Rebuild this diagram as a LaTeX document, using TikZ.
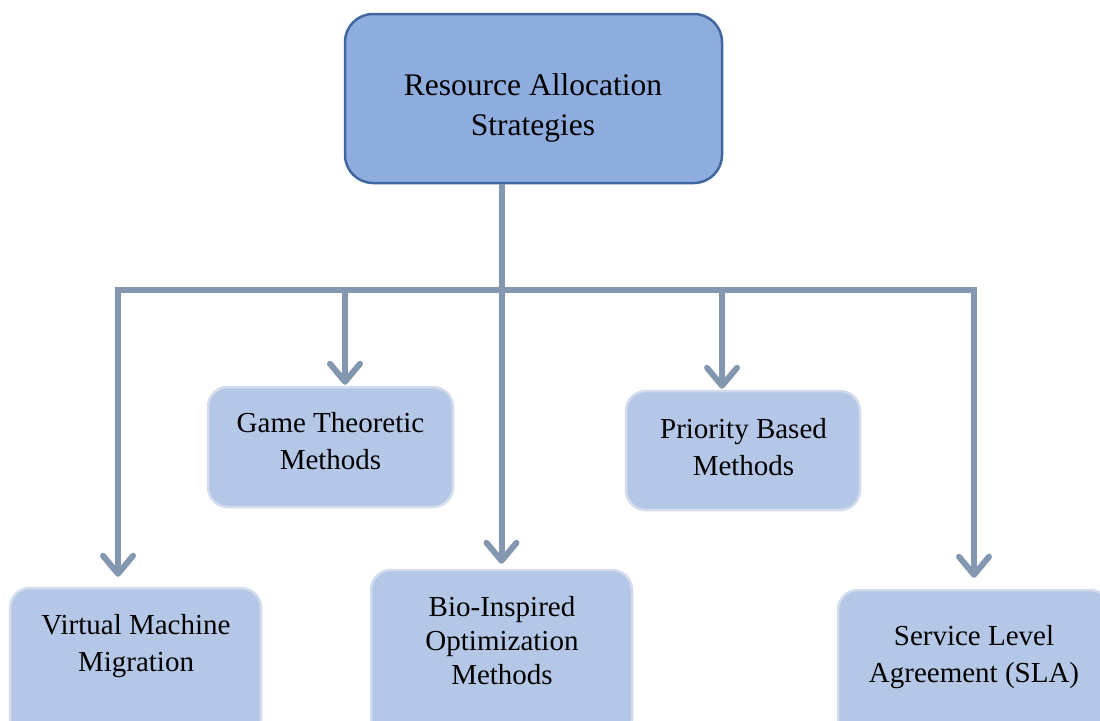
\documentclass[tikz,border=0pt]{standalone}
\usepackage{fontspec}
\setmainfont{Liberation Serif}
\usetikzlibrary{arrows.meta}
\definecolor{topfill}{HTML}{8FACDE}
\definecolor{topdraw}{HTML}{41679F}
\definecolor{subfill}{HTML}{B4C7E7}
\definecolor{subdraw}{HTML}{D3DCEC}
\definecolor{conn}{HTML}{8497B0}
\tikzset{
  topbox/.style={draw=topdraw, fill=topfill, line width=2.5pt, rounded corners=28pt, inner sep=0pt},
  subbox/.style={draw=subdraw, fill=subfill, line width=2.5pt, rounded corners=20pt, inner sep=0pt},
  toptext/.style={align=center, font=\fontsize{31.5}{40}\selectfont, inner sep=0pt},
  subtext/.style={align=center, font=\fontsize{29}{37}\selectfont, inner sep=0pt},
  wire/.style={draw=conn, line width=6pt, line join=miter},
  arr/.style={wire, -{Straight Barb[length=18pt, width=30pt, round]}, shorten >=5pt},
  arr2/.style={wire, {Straight Barb[length=18pt, width=30pt, round]}-{Straight Barb[length=18pt, width=30pt, round]}, shorten >=11pt, shorten <=10pt},
}
\begin{document}
\begin{tikzpicture}[x=1pt, y=-1pt]
\useasboundingbox (0,0) rectangle (1100,720);
\begin{scope}
\clip (0,0) rectangle (1100,720);
% boxes
\node[topbox, minimum width=377pt, minimum height=169pt] (top) at (533.5,98.5) {};
\node[toptext] (toptxt) at (533,107.5) {Resource Allocation\\Strategies};

\node[subbox, minimum width=245pt, minimum height=120pt] (game) at (330.5,447) {};
\node[subtext] (gametxt) at (330.5,441) {Game Theoretic\\Methods};

\node[subbox, minimum width=234pt, minimum height=119pt] (prio) at (743,450.5) {};
\node[subtext] (priotxt) at (743.5,447) {Priority Based\\Methods};

\node[subbox, minimum width=251pt, minimum height=152pt] (vm) at (135.5,664) {};
\node[subtext] (vmtxt) at (136,646) {Virtual Machine\\Migration};

\node[subbox, minimum width=261pt, minimum height=170pt] (bio) at (501.5,655) {};
\node[subtext, font=\fontsize{29}{34}\selectfont] (biotxt) at (502,641) {Bio-Inspired\\Optimization\\Methods};

\node[subbox, minimum width=272pt, minimum height=150pt] (sla) at (974,665) {};
\node[subtext] (slatxt) at (974,657) {Service Level\\Agreement (SLA)};

% connectors
\coordinate (bl) at (118,290);
\coordinate (br) at (974,290);
\coordinate (ga) at (345,290);
\coordinate (pa) at (722,290);

\draw[arr2] (bl |- vm.north) -- (bl) -- (br) -- (br |- sla.north);
\draw[arr] (bio.north |- top.south) -- (bio.north);
\draw[arr, shorten >=1pt] (ga) -- (ga |- game.north);
\draw[arr, shorten >=1pt] (pa) -- (pa |- prio.north);
\end{scope}
\end{tikzpicture}
\end{document}
